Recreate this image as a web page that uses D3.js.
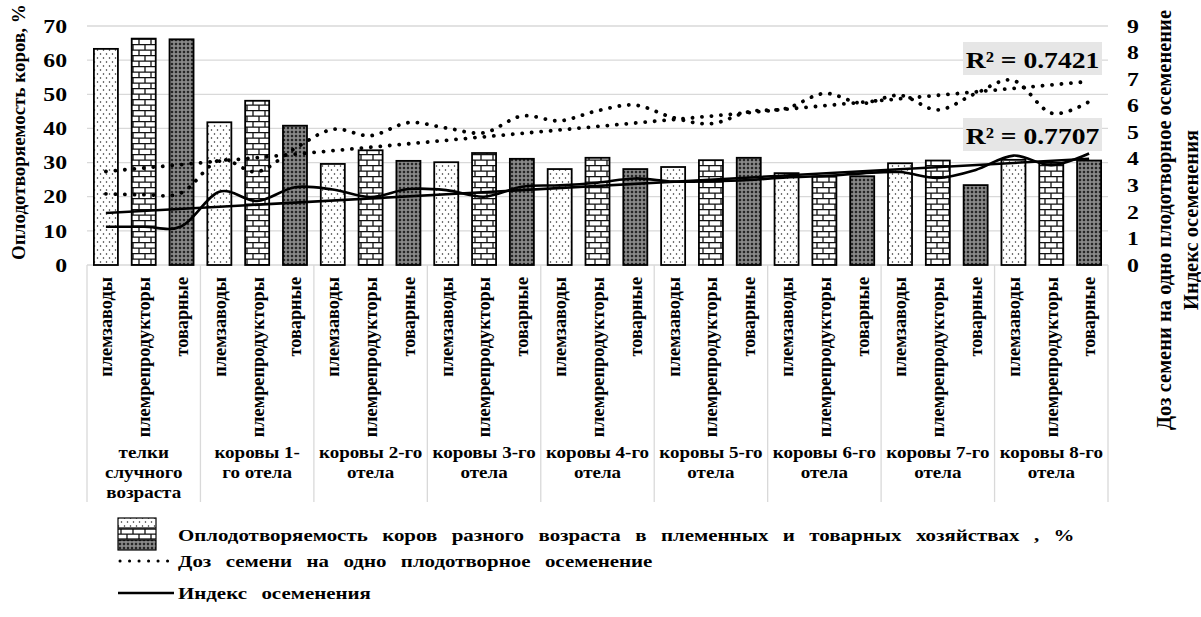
<!DOCTYPE html>
<html>
<head>
<meta charset="utf-8">
<script src="https://cdn.jsdelivr.net/npm/d3@7"></script>
<style>
  html, body { margin: 0; padding: 0; background: #fff; }
  svg { display: block; }
  text { font-family: "Liberation Serif", "Times New Roman", serif; font-weight: bold; fill: #000; }
</style>
</head>
<body>
<svg id="chart" width="1201" height="617"></svg>
<script>
// Age groups (x-axis outer level) and farm types (inner level)
const ageGroups = [
  "телки\nслучного\nвозраста",
  "коровы 1-\nго отела",
  "коровы 2-го\nотела",
  "коровы 3-го\nотела",
  "коровы 4-го\nотела",
  "коровы 5-го\nотела",
  "коровы 6-го\nотела",
  "коровы 7-го\nотела",
  "коровы 8-го\nотела"
];
const farmTypes = ["племзаводы", "племрепродукторы", "товарные"];

// Fertility of cows, % (left axis)
const fertilityBreedingPlants = [63.3, 41.8, 29.6, 30.1, 28.1, 28.7, 26.9, 29.8, 30.8];
const fertilityReproducers    = [66.3, 48.1, 33.6, 32.8, 31.4, 30.7, 25.9, 30.6, 29.9];
const fertilityCommercial     = [66.1, 40.8, 30.5, 31.1, 28.1, 31.4, 26.0, 23.4, 30.6];

// Semen doses per fruitful insemination (right axis), one per bar
const semenDoses = [2.68, 2.65, 2.72, 3.95, 3.51, 4.39, 5.11, 4.87, 5.36,
                    5.16, 4.98, 5.61, 5.43, 5.81, 6.02, 5.55, 5.32, 5.77,
                    5.90, 6.46, 6.09, 6.39, 5.84, 6.46, 6.95, 5.72, 6.15];
// Insemination index (right axis), one per bar
const inseminationIndex = [1.44, 1.44, 1.46, 2.76, 2.41, 2.93, 2.84, 2.56, 2.86,
                           2.82, 2.57, 2.95, 3.00, 3.10, 3.26, 3.14, 3.15, 3.20,
                           3.30, 3.35, 3.45, 3.50, 3.28, 3.58, 4.12, 3.76, 4.20];

const leftTicks = [0, 10, 20, 30, 40, 50, 60, 70];
const rightTicks = [0, 1, 2, 3, 4, 5, 6, 7, 8, 9];
const rSquaredLabels = ["R² = 0.7421", "R² = 0.7707"];

const leftTitle = "Оплодотворяемость коров, %";
const rightTitle = ["Доз семени на одно плодотворное осеменение", "Индекс осеменения"];
const legendLabels = [
  "Оплодотворяемость коров разного возраста в племенных и товарных хозяйствах , %",
  "Доз семени на одно плодотворное осеменение",
  "Индекс осеменения"
];

// ---- build flat rows for the bars ----
const fertilitySeries = [fertilityBreedingPlants, fertilityReproducers, fertilityCommercial];
const rows = [];
ageGroups.forEach((g, gi) => {
  farmTypes.forEach((f, fi) => {
    rows.push({ key: gi + "-" + fi, group: gi, type: fi, label: f, value: fertilitySeries[fi][gi] });
  });
});

const svg = d3.select("#chart");
const plot = { left: 87, right: 1108, top: 26, bottom: 265 };

const x = d3.scaleBand()
  .domain(rows.map(d => d.key))
  .range([plot.left, plot.right])
  .paddingInner(0.365)
  .paddingOuter(0.1825);
const yL = d3.scaleLinear().domain([0, 70]).range([plot.bottom, plot.top]);
const yR = d3.scaleLinear().domain([0, 9]).range([plot.bottom, plot.top]);
const cx = d => x(d) + x.bandwidth() / 2;

// ---- fill patterns ----
const defs = svg.append("defs");
const pDots = defs.append("pattern").attr("id", "pat-dots")
  .attr("patternUnits", "userSpaceOnUse").attr("width", 6).attr("height", 8);
pDots.append("rect").attr("width", 6).attr("height", 8).attr("fill", "#fff");
pDots.append("circle").attr("cx", 1.5).attr("cy", 2).attr("r", 0.75).attr("fill", "#222");
pDots.append("circle").attr("cx", 4.5).attr("cy", 6).attr("r", 0.75).attr("fill", "#222");

const pBrick = defs.append("pattern").attr("id", "pat-brick")
  .attr("patternUnits", "userSpaceOnUse").attr("width", 12).attr("height", 11);
pBrick.append("rect").attr("width", 12).attr("height", 11).attr("fill", "#fff");
pBrick.append("path")
  .attr("d", "M0,0.6H12M0,6.1H12M1,0.6V6.1M7,6.1V11")
  .attr("stroke", "#111").attr("stroke-width", 1.3).attr("fill", "none");

const pMesh = defs.append("pattern").attr("id", "pat-mesh")
  .attr("patternUnits", "userSpaceOnUse").attr("width", 4).attr("height", 4);
pMesh.append("rect").attr("width", 4).attr("height", 4).attr("fill", "#262626");
pMesh.append("circle").attr("cx", 2).attr("cy", 2).attr("r", 1.25)
  .attr("fill", "none").attr("stroke", "#dcdcdc").attr("stroke-width", 0.85);

const fills = ["url(#pat-dots)", "url(#pat-brick)", "url(#pat-mesh)"];

// ---- gridlines ----
svg.append("g").selectAll("line").data(leftTicks.filter(t => t > 0)).join("line")
  .attr("x1", plot.left).attr("x2", plot.right)
  .attr("y1", d => yL(d)).attr("y2", d => yL(d))
  .attr("stroke", "#d9d9d9").attr("stroke-width", 1.3);

// category axis base line and group separators
const labelBottom = 502;
svg.append("line").attr("x1", plot.left).attr("x2", plot.right)
  .attr("y1", plot.bottom).attr("y2", plot.bottom)
  .attr("stroke", "#d9d9d9").attr("stroke-width", 1.3);
const groupEdges = d3.range(ageGroups.length + 1).map(i =>
  i < ageGroups.length ? x(i + "-0") - x.step() * x.paddingOuter() : plot.right);
svg.append("g").selectAll("line").data(groupEdges).join("line")
  .attr("x1", d => d).attr("x2", d => d)
  .attr("y1", plot.bottom).attr("y2", labelBottom)
  .attr("stroke", "#d9d9d9").attr("stroke-width", 1.3);

// ---- bars ----
svg.append("g").selectAll("rect").data(rows).join("rect")
  .attr("x", d => x(d.key)).attr("width", x.bandwidth())
  .attr("y", d => yL(d.value)).attr("height", d => yL(0) - yL(d.value))
  .attr("fill", d => fills[d.type])
  .attr("stroke", "#000").attr("stroke-width", 1.8);

// ---- lines and linear trends ----
const keys = rows.map(d => d.key);
function linearTrend(values) {
  const n = values.length;
  const xs = d3.range(n);
  const mx = d3.mean(xs), my = d3.mean(values);
  const b = d3.sum(xs, i => (i - mx) * (values[i] - my)) / d3.sum(xs, i => (i - mx) ** 2);
  const a = my - b * mx;
  return [0, n - 1].map(i => ({ i, v: a + b * i }));
}
const smooth = d3.line().x((v, i) => cx(keys[i])).y(v => yR(v)).curve(d3.curveCatmullRom.alpha(0));
const straight = d3.line().x(p => cx(keys[p.i])).y(p => yR(p.v));

const dotted = { "stroke-dasharray": "0.1 9.4", "stroke-linecap": "round", "stroke-width": 3.8 };
function applyAttrs(sel, attrs) { Object.entries(attrs).forEach(([k, v]) => sel.attr(k, v)); return sel; }

const lines = svg.append("g").attr("fill", "none").attr("stroke", "#000");
applyAttrs(lines.append("path").attr("d", straight(linearTrend(semenDoses))), dotted);
applyAttrs(lines.append("path").attr("d", smooth(semenDoses)), dotted);
lines.append("path").attr("d", straight(linearTrend(inseminationIndex))).attr("stroke-width", 2.6);
lines.append("path").attr("d", smooth(inseminationIndex)).attr("stroke-width", 2.6);

// ---- R² labels ----
const rBoxes = [{ y: 42 }, { y: 118 }];
rBoxes.forEach((b, i) => {
  svg.append("rect").attr("x", 963).attr("y", b.y).attr("width", 139).attr("height", 33).attr("fill", "#e6e6e6");
  svg.append("text").attr("transform", `translate(1032.5,${b.y + 26}) scale(1.2,1)`)
    .attr("text-anchor", "middle").attr("font-size", 23).text(rSquaredLabels[i]);
});

// ---- axes tick labels ----
svg.append("g").selectAll("text").data(leftTicks).join("text")
  .attr("transform", d => `translate(67,${yL(d)}) scale(1.25,1)`).attr("dy", "0.35em")
  .attr("text-anchor", "end").attr("font-size", 19).text(d => d);
svg.append("g").selectAll("text").data(rightTicks).join("text")
  .attr("transform", d => `translate(1133,${yR(d)}) scale(1.25,1)`).attr("dy", "0.35em")
  .attr("text-anchor", "middle").attr("font-size", 19).text(d => d);

// rotated farm-type labels
svg.append("g").selectAll("text").data(rows).join("text")
  .attr("transform", d => `translate(${cx(d.key)},277) rotate(-90)`)
  .attr("dy", "0.35em").attr("text-anchor", "end").attr("font-size", 18.3)
  .text(d => d.label);

// age group labels (multi-line)
const gLabels = svg.append("g").selectAll("text").data(ageGroups).join("text")
  .attr("text-anchor", "middle").attr("font-size", 17)
  .attr("transform", (d, i) => `translate(${(groupEdges[i] + groupEdges[i + 1]) / 2},452) scale(1.12,1)`);
gLabels.selectAll("tspan").data(d => d.split("\n")).join("tspan")
  .attr("x", 0).attr("y", (d, i) => i * 20).attr("dy", "0.35em").text(d => d);

// axis titles
svg.append("text").attr("transform", "translate(18,132) rotate(-90)")
  .attr("dy", "0.35em").attr("text-anchor", "middle").attr("font-size", 19).text(leftTitle);
rightTitle.forEach((t, i) => {
  svg.append("text").attr("transform", `translate(${1164 + i * 27},220) rotate(-90)`)
    .attr("dy", "0.35em").attr("text-anchor", "middle").attr("font-size", 20.5).text(t);
});

// ---- legend ----
const lg = svg.append("g");
const swatchX = 118, swatchW = 38, textX = 178;
fills.forEach((f, i) => {
  lg.append("rect").attr("x", swatchX).attr("y", 518 + i * 11).attr("width", swatchW).attr("height", 10)
    .attr("fill", f).attr("stroke", "#000").attr("stroke-width", 1.2);
});
const legendY = [535, 561, 593];
legendLabels.forEach((t, i) => {
  lg.append("text").attr("transform", `translate(${textX},${legendY[i]}) scale(1.23,1)`)
    .attr("dy", "0.35em").attr("font-size", 17).attr("word-spacing", 7.5).text(t);
});
applyAttrs(lg.append("line").attr("x1", 120).attr("x2", 174).attr("y1", 561).attr("y2", 561).attr("stroke", "#000"),
  { "stroke-dasharray": "0.1 9.4", "stroke-linecap": "round", "stroke-width": 3 });
lg.append("line").attr("x1", 118).attr("x2", 174).attr("y1", 593).attr("y2", 593).attr("stroke", "#000").attr("stroke-width", 2.6);
</script>
</body>
</html>
